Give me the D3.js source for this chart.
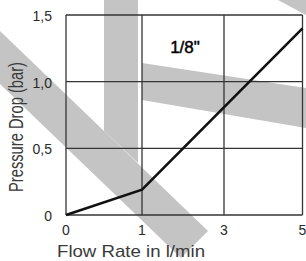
<!DOCTYPE html>
<html>
<head>
<meta charset="utf-8">
<script src="https://cdn.jsdelivr.net/npm/d3@7"></script>
<style>
  html, body { margin: 0; padding: 0; background: #fff; }
  svg { display: block; font-family: "Liberation Sans", Arial, Helvetica, sans-serif; }
</style>
</head>
<body>
<div id="chart"></div>
<script>
// data
var flowTicks = [0, 1, 3, 5];
var flowTickLabels = ["0", "1", "3", "5"];
var dropTicks = [0, 0.5, 1.0, 1.5];
var dropTickLabels = ["0", "0,5", "1,0", "1,5"];
var flowRate = [0, 1, 5];
var pressureDrop = [0, 0.19, 1.4];
var curveLabel = "1/8\"";

var width = 306, height = 261;
var plot = { left: 66, right: 302.5, top: 15, bottom: 215 };

var svg = d3.select("#chart").append("svg")
    .attr("width", width)
    .attr("height", height);

// grey watermark behind the chart
var wm = [
    [[104, 0], [138, 0], [138, 163], [104, 131]],
    [[0, 31], [208, 231], [181, 258], [0, 84]],
    [[142, 63], [306, 88], [306, 128], [142, 100]],
    [[278, 0], [306, 0], [306, 15]]
];
svg.append("g").selectAll("polygon")
    .data(wm)
    .enter().append("polygon")
    .attr("points", function(d) { return d.map(function(p) { return p.join(","); }).join(" "); })
    .attr("fill", "#c4c4c4");

// the x axis spacing is uneven in the original (0,1,3,5 columns)
var x = d3.scaleLinear()
    .domain(flowTicks)
    .range([plot.left, 142, 224, plot.right]);
var y = d3.scaleLinear()
    .domain([0, 1.5])
    .range([plot.bottom, plot.top]);

var grid = svg.append("g")
    .attr("stroke", "#353535")
    .attr("stroke-width", 1.3);

grid.selectAll(".vx")
    .data(flowTicks)
    .enter().append("line")
    .attr("x1", function(d) { return x(d); })
    .attr("x2", function(d) { return x(d); })
    .attr("y1", y(1.5))
    .attr("y2", y(0));

grid.selectAll(".hy")
    .data(dropTicks)
    .enter().append("line")
    .attr("x1", x(0))
    .attr("x2", x(5))
    .attr("y1", function(d) { return y(d); })
    .attr("y2", function(d) { return y(d); });

var line = d3.line()
    .x(function(d) { return x(d[0]); })
    .y(function(d) { return y(d[1]); });

svg.append("path")
    .datum(d3.zip(flowRate, pressureDrop))
    .attr("d", line)
    .attr("fill", "none")
    .attr("stroke", "#111")
    .attr("stroke-width", 2.6)
    .attr("stroke-linejoin", "miter");

// tick labels
svg.append("g").selectAll("text")
    .data(flowTicks)
    .enter().append("text")
    .attr("x", function(d) { return x(d); })
    .attr("y", 235)
    .attr("text-anchor", "middle")
    .attr("font-size", 14)
    .attr("fill", "#2a2a2a")
    .text(function(d, i) { return flowTickLabels[i]; });

svg.append("g").selectAll("text")
    .data(dropTicks)
    .enter().append("text")
    .attr("x", 52)
    .attr("y", function(d) { return y(d) + 6; })
    .attr("text-anchor", "end")
    .attr("font-size", 14)
    .attr("fill", "#2a2a2a")
    .text(function(d, i) { return dropTickLabels[i]; });

// titles
svg.append("text")
    .attr("x", 131)
    .attr("y", 257)
    .attr("text-anchor", "middle")
    .attr("font-size", 17)
    .attr("fill", "#3a3a3a")
    .attr("textLength", 148)
    .attr("lengthAdjust", "spacingAndGlyphs")
    .text("Flow Rate in l/min");

svg.append("text")
    .attr("transform", "translate(23," + 127 + ") rotate(-90)")
    .attr("text-anchor", "middle")
    .attr("font-size", 20)
    .attr("fill", "#3a3a3a")
    .attr("textLength", 130)
    .attr("lengthAdjust", "spacingAndGlyphs")
    .text("Pressure Drop (bar)");

svg.append("text")
    .attr("x", (x(1) + x(3)) / 2 + 2)
    .attr("y", 53)
    .attr("text-anchor", "middle")
    .attr("font-size", 17)
    .attr("fill", "#000")
    .attr("stroke", "#000")
    .attr("stroke-width", 0.45)
    .text(curveLabel);
</script>
</body>
</html>
